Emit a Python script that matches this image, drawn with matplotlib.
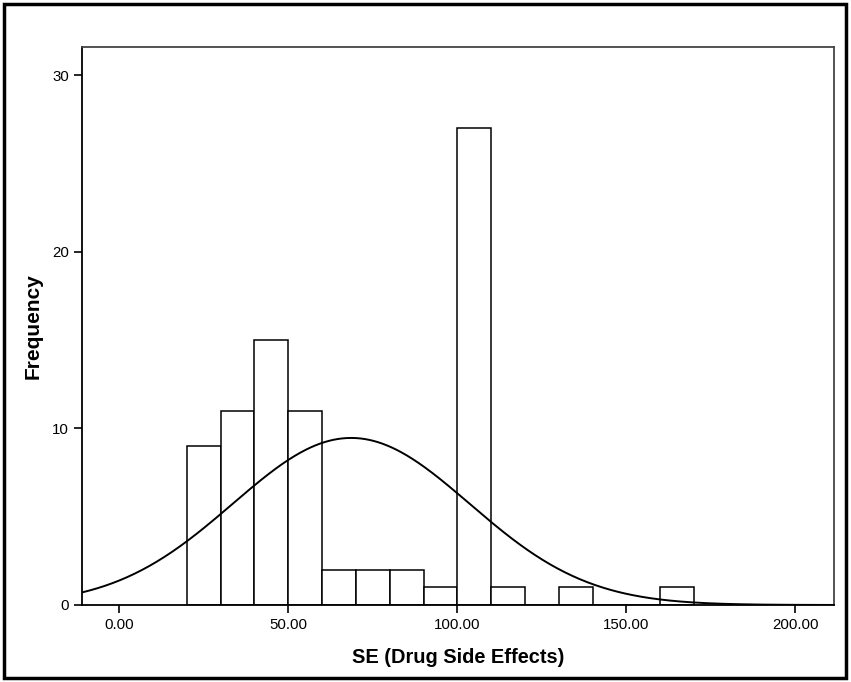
import numpy as np
import matplotlib
matplotlib.use("Agg")
import matplotlib.pyplot as plt
from matplotlib.patches import Rectangle

plt.rcParams['font.family'] = ['Liberation Sans', 'DejaVu Sans']

# histogram bins (left edges) and counts, width 10
bin_edges = [20, 30, 40, 50, 60, 70, 80, 90, 100, 110, 120, 130, 140, 150, 160, 170]
counts = [9, 11, 15, 11, 2, 2, 2, 1, 27, 1, 0, 1, 0, 0, 1]

# normal curve parameters (SPSS overlay)
curve_mean = 68.6
curve_sd = 35.0

x_ticks = [0, 50, 100, 150, 200]
y_ticks = [0, 10, 20, 30]

fig = plt.figure(figsize=(8.51, 6.82), dpi=100)
ax = fig.add_axes([82 / 851, 1 - 605 / 682, (834 - 82) / 851, (605 - 47) / 682])

ax.bar(bin_edges[:-1], counts, width=10, align='edge',
       color='white', edgecolor='black', linewidth=1.1)

n = sum(counts)
xs = np.linspace(-11, 211, 500)
ys = n * 10 / (curve_sd * np.sqrt(2 * np.pi)) * np.exp(-0.5 * ((xs - curve_mean) / curve_sd) ** 2)
ax.plot(xs, ys, color='black', linewidth=1.4)

ax.set_xlim(-11, 211.4)
ax.set_ylim(0, 31.6)
ax.set_xticks(x_ticks)
ax.set_xticklabels(['%.2f' % t for t in x_ticks])
ax.set_yticks(y_ticks)
ax.tick_params(direction='out', length=6, width=1.2, labelsize=10.8, colors='black')
for s in ['left', 'bottom']:
    ax.spines[s].set_color('black')
    ax.spines[s].set_linewidth(1.3)
for s in ['top', 'right']:
    ax.spines[s].set_color('#444444')
    ax.spines[s].set_linewidth(1.3)

ax.set_xlabel('SE (Drug Side Effects)', fontsize=14.4, fontweight='bold')
ax.set_ylabel('Frequency', fontsize=15, fontweight='bold')
ax.xaxis.set_label_coords(0.5, (605 - 648) / 558)
ax.yaxis.set_label_coords((43 - 82) / 752, 0.5)

# outer frame around the whole chart
fig.patches.append(Rectangle((4 / 851, 4 / 682), 842 / 851, 674 / 682,
                             transform=fig.transFigure, fill=False,
                             edgecolor='black', linewidth=2.5))

fig.savefig('out.png', dpi=100)
